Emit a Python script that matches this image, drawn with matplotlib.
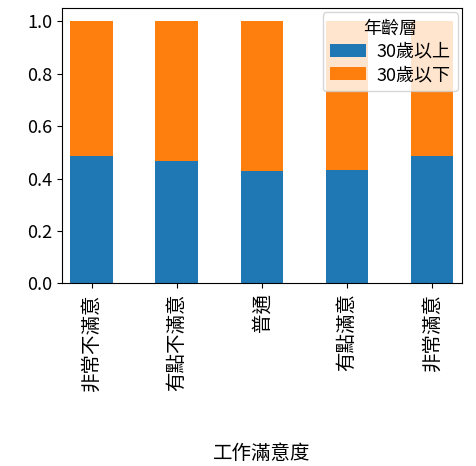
import matplotlib
matplotlib.use("Agg")
import matplotlib.pyplot as plt
import numpy as np

plt.rcParams["font.family"] = ["Noto Sans CJK TC", "DejaVu Sans"]

# 資料
categories = ["非常不滿意", "有點不滿意", "普通", "有點滿意", "非常滿意"]
over_30 = [0.488, 0.467, 0.430, 0.433, 0.487]
under_30 = [1 - v for v in over_30]

fig = plt.figure(figsize=(4.76, 4.66), dpi=100)
ax = fig.add_axes([0.13, 0.392, 0.84, 0.59])

x = np.arange(len(categories))
ax.bar(x, over_30, width=0.5, color="#1f77b4", label="30歲以上")
ax.bar(x, under_30, width=0.5, bottom=over_30, color="#ff7f0e", label="30歲以下")

ax.set_xlim(-0.35, 4.35)
ax.set_ylim(0, 1.05)
ax.set_xticks(x)
ax.set_xticklabels(categories, rotation=90, fontsize=14)
ax.tick_params(axis="y", labelsize=13)
ax.set_xlabel("工作滿意度", fontsize=14, labelpad=38)
ax.legend(title="年齡層", loc="upper right", fontsize=13, title_fontsize=13,
          borderaxespad=0.2, labelspacing=0.3, handletextpad=0.6)

fig.savefig("out.png", dpi=100)
